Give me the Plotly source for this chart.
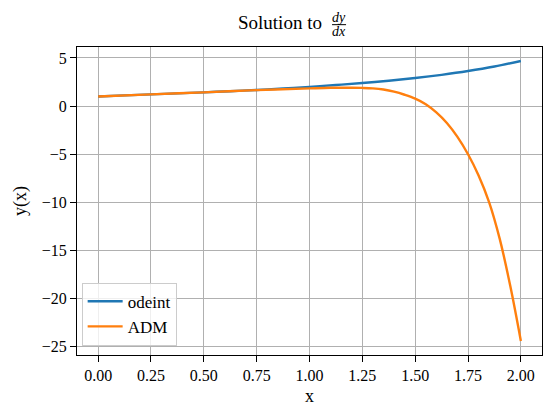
import plotly.graph_objects as go

# odeint solution
x_odeint = [0.0, 0.125, 0.25, 0.375, 0.5, 0.625, 0.75, 0.875, 1.0,
            1.125, 1.25, 1.375, 1.5, 1.625, 1.75, 1.875, 2.0]
y_odeint = [1.0, 1.11, 1.22, 1.32, 1.43, 1.55, 1.68, 1.83, 2.0,
            2.19, 2.40, 2.64, 2.92, 3.25, 3.64, 4.11, 4.69]

# ADM series solution
x_adm = [0.0, 0.25, 0.5, 0.75, 1.0, 1.1, 1.2, 1.25, 1.3, 1.35, 1.4, 1.45,
         1.5, 1.55, 1.6, 1.65, 1.7, 1.75, 1.8, 1.85, 1.9, 1.95, 2.0]
y_adm = [1.0, 1.22, 1.43, 1.66, 1.84, 1.90, 1.91, 1.89, 1.84, 1.72, 1.50, 1.18,
         0.78, 0.20, -0.65, -1.75, -3.2, -5.0, -7.2, -10.0, -13.8, -18.7, -24.4]

x_ticks = [0.0, 0.25, 0.5, 0.75, 1.0, 1.25, 1.5, 1.75, 2.0]
y_ticks = [-25, -20, -15, -10, -5, 0, 5]

FONT = "Liberation Serif"

fig = go.Figure()
fig.add_trace(go.Scatter(x=x_odeint, y=y_odeint, name="odeint", mode="lines",
                         line=dict(color="#1f77b4", width=2.4, shape="spline")))
fig.add_trace(go.Scatter(x=x_adm, y=y_adm, name="ADM", mode="lines",
                         line=dict(color="#ff7f0e", width=2.4, shape="spline")))

axis_common = dict(showline=True, mirror=True, linecolor="black", linewidth=1.2,
                   showgrid=True, gridcolor="#b0b0b0", gridwidth=1, zeroline=False,
                   ticks="outside", ticklen=6, tickwidth=1.2, tickcolor="black",
                   automargin=False,
                   tickfont=dict(family=FONT, size=16, color="black"))

fig.update_xaxes(range=[-0.1, 2.1], tickvals=x_ticks, tickformat=".2f",
                 title=dict(text="x", font=dict(family=FONT, size=18, color="black"), standoff=6),
                 **axis_common)
fig.update_yaxes(range=[-25.86, 6.14], tickvals=y_ticks,
                 title=dict(text="y(x)", font=dict(family=FONT, size=18, color="black"), standoff=10),
                 **axis_common)

# title with a stacked dy/dx fraction
fig.add_annotation(text="Solution to", xref="paper", yref="paper", x=0.4376, y=1.079,
                   showarrow=False, xanchor="center", yanchor="middle",
                   font=dict(family=FONT, size=19, color="black"))
fig.add_annotation(text="<i>dy</i>", xref="paper", yref="paper", x=0.5635, y=1.097,
                   showarrow=False, xanchor="center", yanchor="middle",
                   font=dict(family=FONT, size=14, color="black"))
fig.add_annotation(text="<i>dx</i>", xref="paper", yref="paper", x=0.5635, y=1.049,
                   showarrow=False, xanchor="center", yanchor="middle",
                   font=dict(family=FONT, size=14, color="black"))
fig.add_shape(type="line", xref="paper", yref="paper", x0=0.5485, x1=0.5786,
              y0=1.0725, y1=1.0725, line=dict(color="black", width=1))

# the page body adds an 8px offset, so the figure is sized to fit the window
fig.update_layout(
    width=544, height=408,
    margin=dict(l=69, r=10, t=39, b=61),
    paper_bgcolor="white", plot_bgcolor="white",
    font=dict(family=FONT, color="black"),
    showlegend=True,
    legend=dict(x=0.01, y=0.03, xanchor="left", yanchor="bottom",
                bgcolor="rgba(255,255,255,0.8)", bordercolor="#cccccc", borderwidth=1,
                tracegroupgap=0, itemwidth=35,
                font=dict(family=FONT, size=17, color="black")),
)

fig.write_html("out.html")
